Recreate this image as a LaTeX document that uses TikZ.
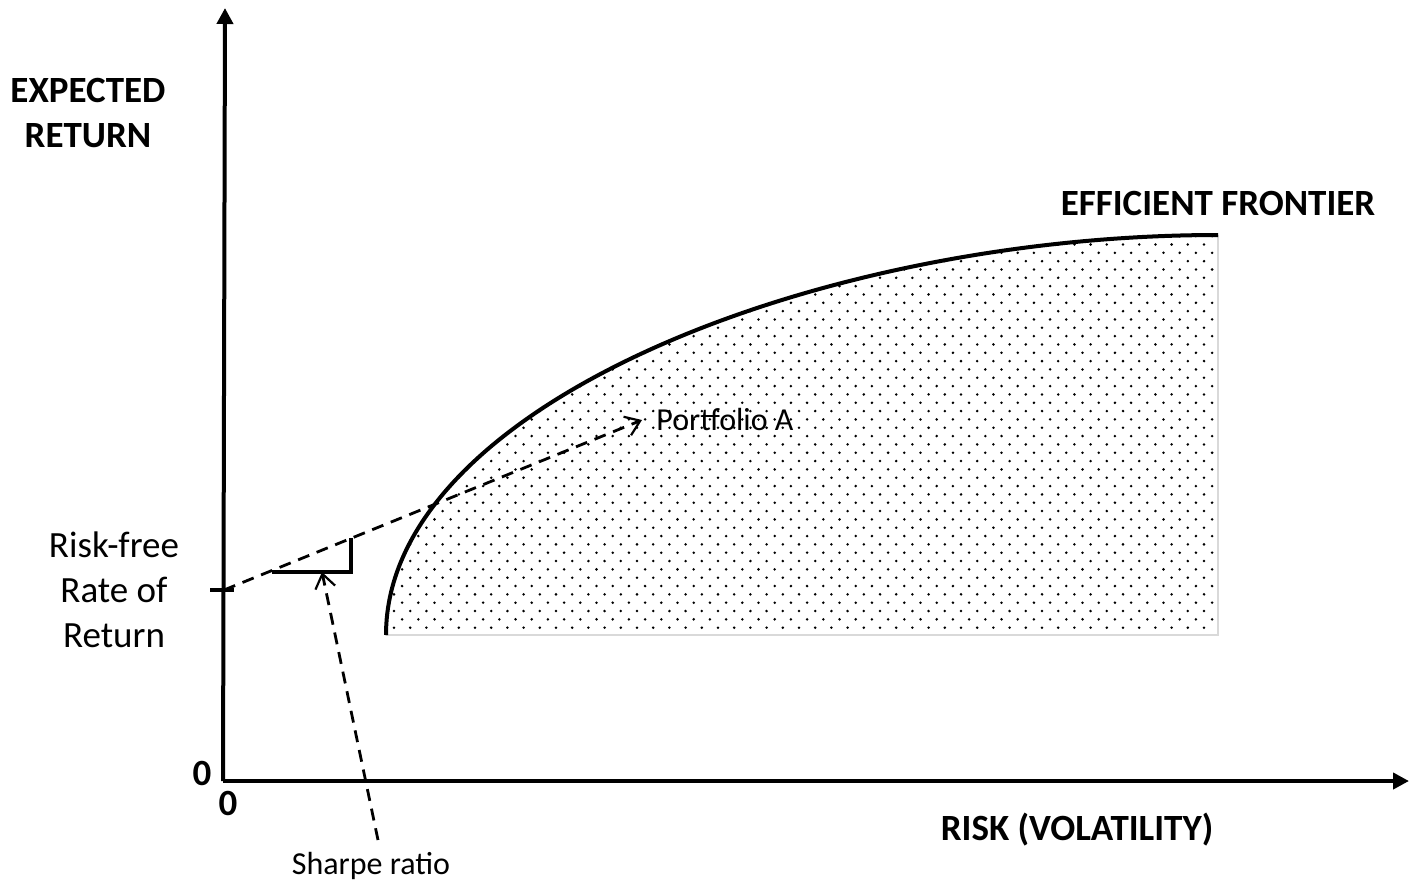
\documentclass[tikz,border=0pt]{standalone}
\usepackage{fontspec}
\setmainfont{Carlito}
\usetikzlibrary{arrows.meta}
\tikzset{
  axis/.style={line width=2pt, -{Triangle[length=8pt,width=8pt]}},
  dashline/.style={line width=1.4pt, dash pattern=on 6pt off 4pt, -{Straight Barb[length=7pt,width=10pt,line width=1.1pt]}},
  bigbold/.style={font=\fontsize{18.5}{22.5}\selectfont\bfseries, inner sep=0pt, align=center},
  bigreg/.style={font=\fontsize{18.5}{22.5}\selectfont, inner sep=0pt, align=center},
  smallreg/.style={font=\fontsize{16}{19}\selectfont, inner sep=0pt},
}
\begin{document}
\begin{tikzpicture}[x=0.5pt,y=-0.5pt]
\useasboundingbox (0,0) rectangle (1418,884);
\coordinate (fa) at (386,635);
\coordinate (fb) at (1218,235);
\coordinate (fc) at (1218,635);
% dotted region
\begin{scope}
  \clip (fa) .. controls (386,405) and (818,235) .. (fb) -- (fc) -- cycle;
  \foreach \j [evaluate=\j as \yy using {636-\j*8.33}, evaluate=\j as \off using {mod(\j,2)*8.1}] in {0,...,49}{
    \foreach \i in {0,...,52}{
      \fill ({385.9+\off+\i*16.2},\yy) circle (0.7pt);
    }
  }
\end{scope}
\draw[gray!30, line width=0.6pt] (fa) -- (fc) -- (fb);
% frontier curve
\draw[line width=2pt] (fa) .. controls (386,405) and (818,235) .. (fb);
% axes
\coordinate (O) at (223,781);
\coordinate (ytop) at (225,8);
\coordinate (xend) at (1409,781);
\draw[axis] (O) -- (ytop);
\draw[axis] (O) -- (xend);
% risk-free tick
\coordinate (rf) at (224,590);
\coordinate (tickL) at (210,590);
\coordinate (tickR) at (234,590);
\draw[line width=1.8pt] (tickL) -- (tickR);
% triangle
\coordinate (t1) at (272,572);
\coordinate (t2) at (351,572);
\coordinate (t3) at (351,538);
\draw[line width=1.8pt] (t1) -- (t2) -- (t3);
% labels
\node[bigbold] (er) at (88,113) {EXPECTED\\RETURN};
\node[bigbold] (ef) at (1218,203) {EFFICIENT FRONTIER};
\node[bigbold] (risk) at (1077,830) {RISK (VOLATILITY)};
\node[bigbold] (z1) at (202,773) {0};
\node[bigbold] (z2) at (228,803) {0};
\node[bigreg] (rfl) at (114,590) {Risk-free\\Rate of\\Return};
\node[smallreg, anchor=west] (pa) at (656,419) {Portfolio A};
\node[smallreg] (sr) at (371,866) {Sharpe ratio};
% dashed arrows
\coordinate (patip) at (642,420);
\coordinate (srtail) at (378,840);
\coordinate (srtip) at (322,572);
\draw[dashline] (rf) -- (patip);
\draw[dashline] (srtail) -- (srtip);
\end{tikzpicture}
\end{document}
